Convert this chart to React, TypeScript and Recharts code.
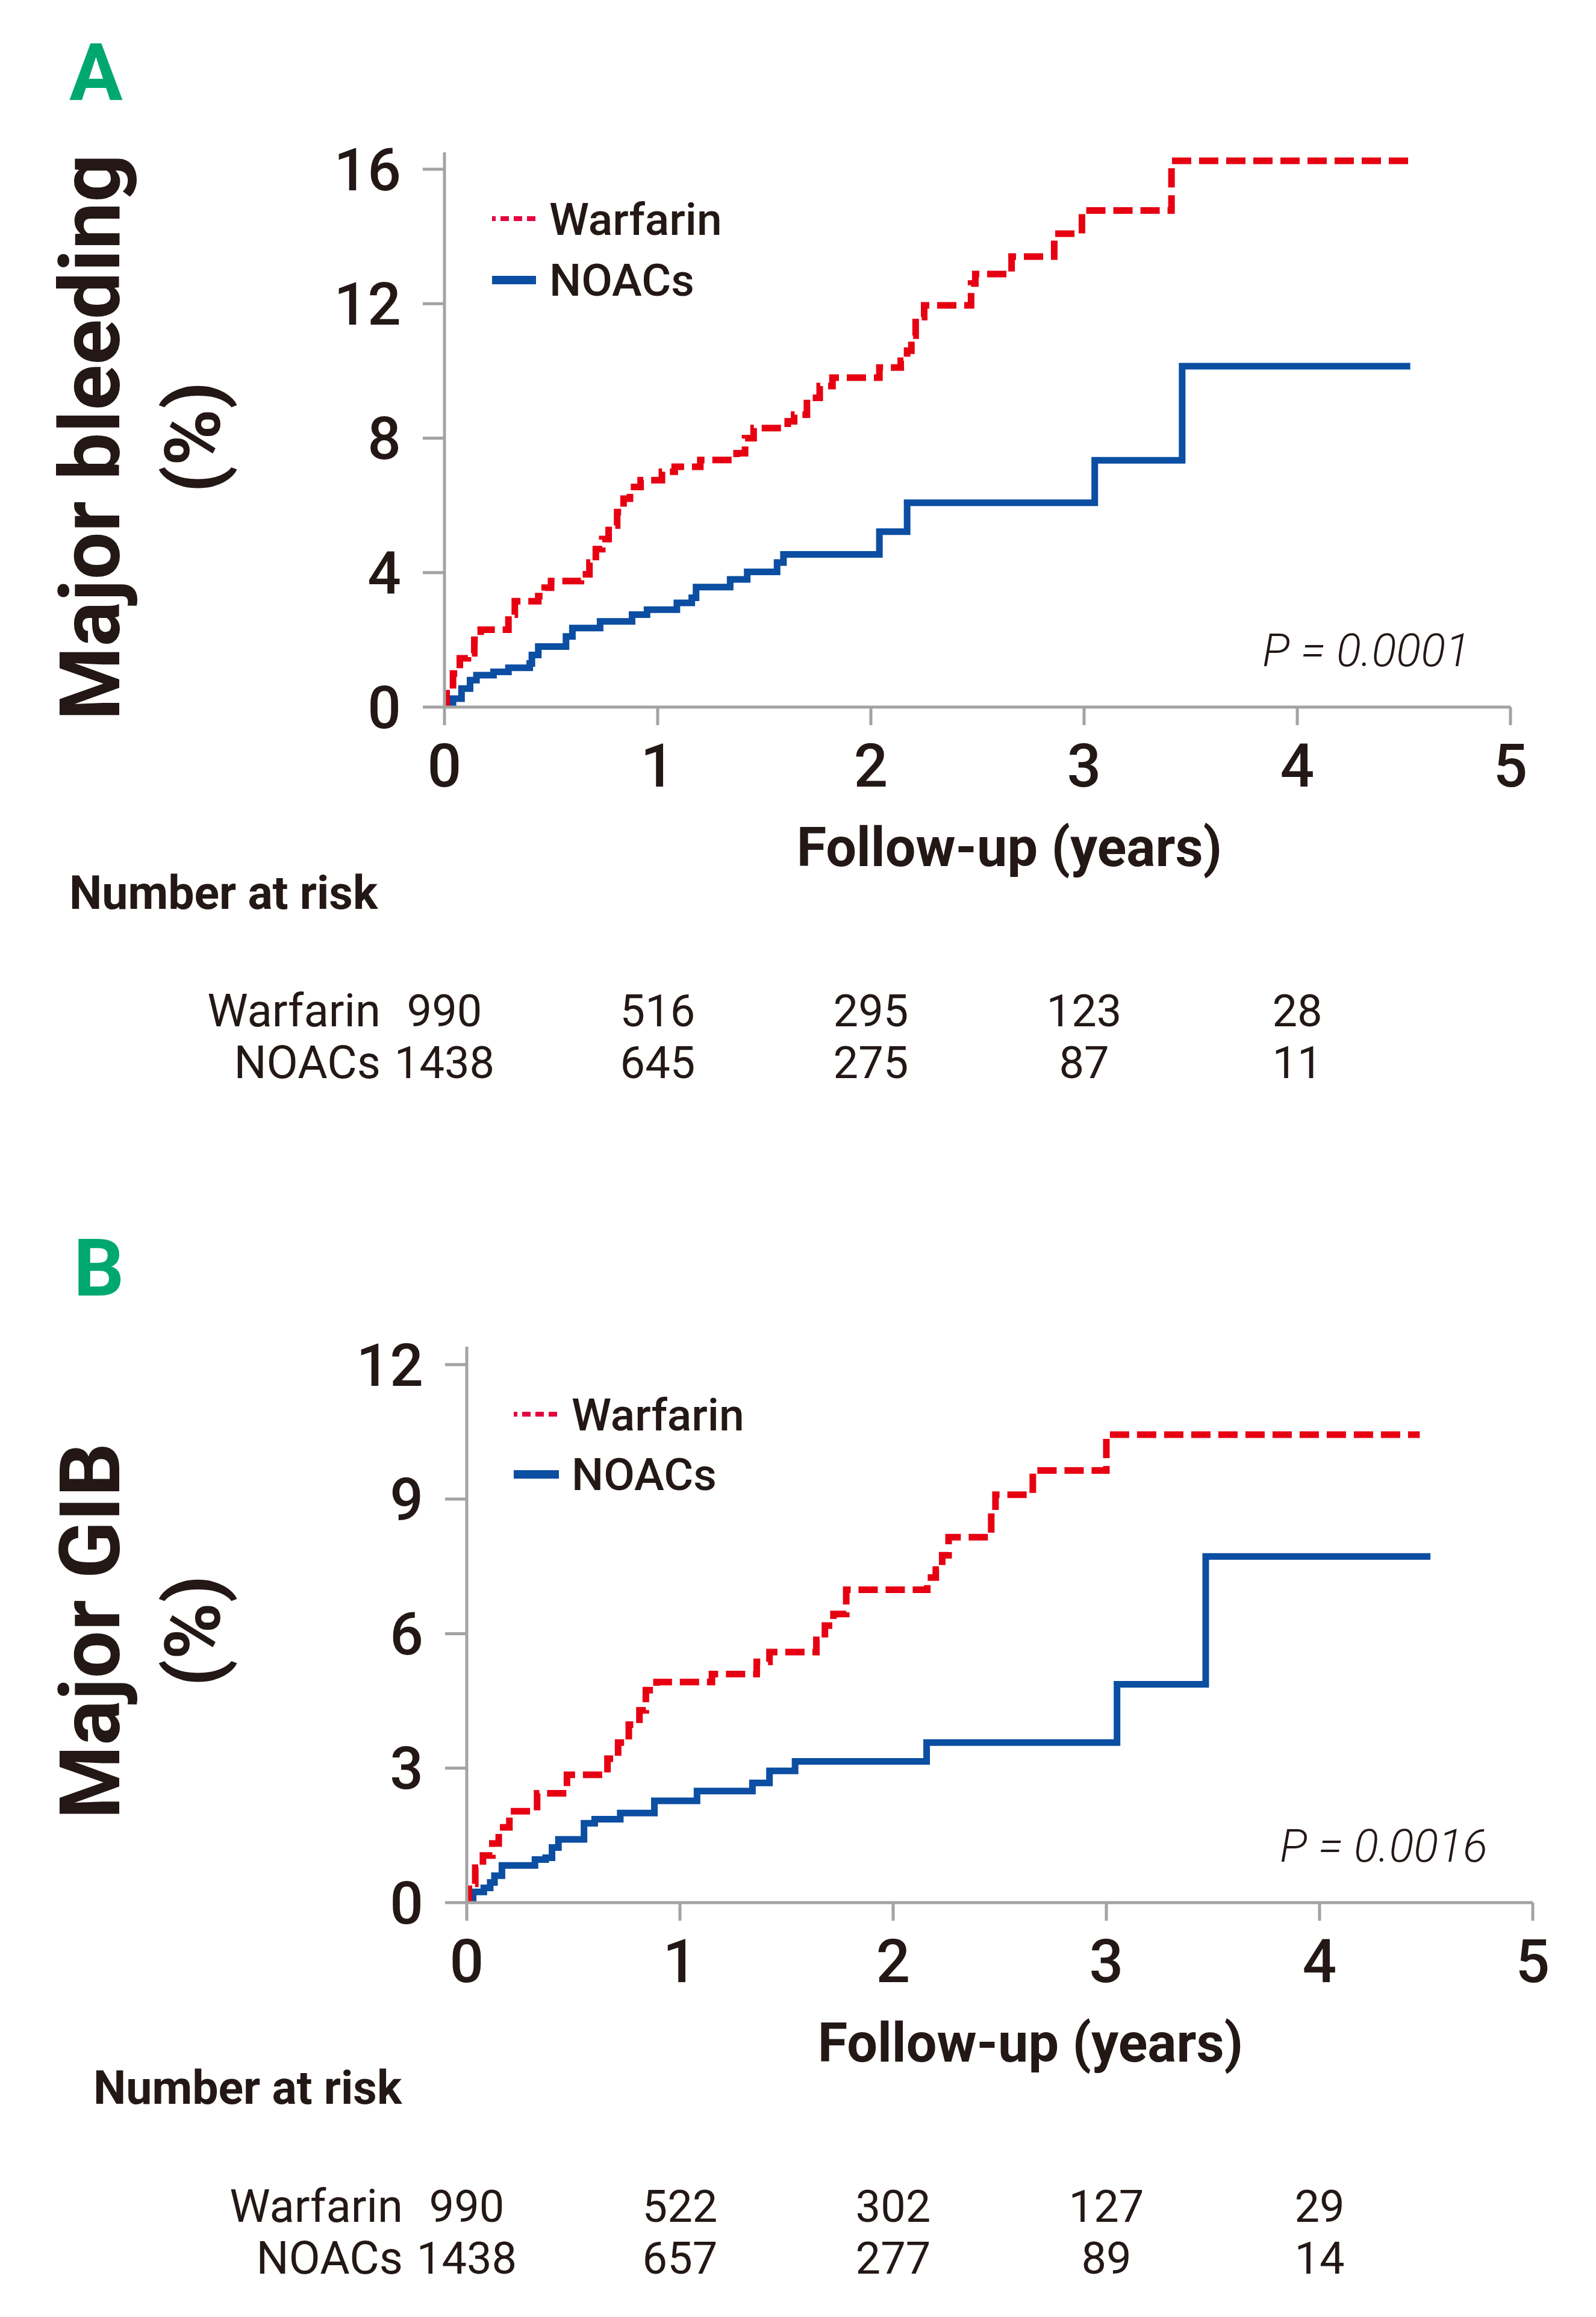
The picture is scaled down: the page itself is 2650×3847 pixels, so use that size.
import { LineChart, Line, XAxis, YAxis } from "recharts";

type Pt = { t: number; v: number };
const pts = (rows: number[][]): Pt[] => rows.map(([t, v]) => ({ t, v }));

// x: years of follow-up, v: cumulative incidence (%)
const yearTicks = [0, 1, 2, 3, 4, 5];
const bleedTicks = [0, 4, 8, 12, 16];
const gibTicks = [0, 3, 6, 9, 12];

const warfarinBleed = pts([
  [0, 0], [0.01, 0.54], [0.04, 1.0], [0.072, 1.45], [0.11, 1.6], [0.14, 2.0],
  [0.17, 2.3], [0.3, 2.75], [0.33, 3.15], [0.44, 3.3], [0.47, 3.55], [0.5, 3.75],
  [0.64, 3.95], [0.68, 4.3], [0.71, 4.7], [0.74, 5.0], [0.77, 5.4], [0.81, 5.8],
  [0.84, 6.2], [0.87, 6.55], [0.92, 6.75], [1.02, 7.0], [1.08, 7.15], [1.2, 7.35],
  [1.37, 7.55], [1.41, 8.0], [1.45, 8.3], [1.61, 8.5], [1.64, 8.7], [1.7, 9.2],
  [1.76, 9.55], [1.82, 9.8], [2.04, 10.1], [2.14, 10.3], [2.17, 10.6], [2.19, 11.05],
  [2.21, 11.6], [2.25, 11.95], [2.47, 12.6], [2.49, 12.88], [2.66, 13.4], [2.86, 14.08],
  [2.99, 14.77], [3.41, 16.25], [4.53, 16.25],
]);

const noacsBleed = pts([
  [0, 0], [0.04, 0.25], [0.08, 0.55], [0.12, 0.8], [0.15, 0.95], [0.23, 1.05],
  [0.3, 1.17], [0.4, 1.3], [0.41, 1.55], [0.44, 1.8], [0.57, 2.1], [0.6, 2.35],
  [0.73, 2.55], [0.88, 2.75], [0.95, 2.9], [1.09, 3.1], [1.16, 3.25], [1.18, 3.57],
  [1.34, 3.8], [1.42, 4.02], [1.56, 4.3], [1.59, 4.54], [2.04, 5.22], [2.17, 6.08],
  [3.05, 7.34], [3.46, 10.14], [4.53, 10.14],
]);

const warfarinGib = pts([
  [0, 0], [0.01, 0.42], [0.04, 0.78], [0.076, 1.05], [0.12, 1.32], [0.15, 1.68],
  [0.2, 2.04], [0.33, 2.44], [0.47, 2.85], [0.66, 3.21], [0.71, 3.57], [0.76, 3.97],
  [0.81, 4.29], [0.84, 4.74], [0.89, 4.92], [1.15, 5.1], [1.36, 5.37], [1.42, 5.59],
  [1.64, 5.86], [1.68, 6.18], [1.72, 6.44], [1.78, 6.98], [2.16, 7.25], [2.2, 7.43],
  [2.23, 7.75], [2.26, 8.15], [2.46, 8.69], [2.48, 9.1], [2.655, 9.64], [3.0, 10.44],
  [4.47, 10.44],
]);

const noacsGib = pts([
  [0, 0], [0.03, 0.24], [0.08, 0.33], [0.11, 0.45], [0.13, 0.6], [0.165, 0.83],
  [0.32, 0.96], [0.37, 1.0], [0.4, 1.23], [0.43, 1.41], [0.55, 1.77], [0.6, 1.86],
  [0.72, 2.0], [0.88, 2.27], [1.08, 2.49], [1.34, 2.67], [1.42, 2.94], [1.54, 3.15],
  [2.157, 3.57], [3.05, 4.87], [3.466, 7.72], [4.52, 7.72],
]);

const riskWarfarinBleed = [990, 516, 295, 123, 28];
const riskNoacsBleed = [1438, 645, 275, 87, 11];
const riskWarfarinGib = [990, 522, 302, 127, 29];
const riskNoacsGib = [1438, 657, 277, 89, 14];

const FONT = "Roboto, 'Open Sans', sans-serif";
const INK = "#231815";
const AXIS = "#a3a3a3";
const RED = "#e60012";
const LEGEND_RED = "#e4003f";
const BLUE = "#0b4ea2";
const GREEN = "#00a870";

function RiskTick(props: any) {
  const { x, y, payload, index, riskW, riskN } = props;
  return (
    <g fontFamily={FONT} fill={INK}>
      <text x={x} y={y + 102} textAnchor="middle" fontSize={100} fontWeight={500}>
        {payload.value}
      </text>
      {index < riskW.length && (
        <>
          <text x={x} y={y + 500} textAnchor="middle" fontSize={74}>
            {riskW[index]}
          </text>
          <text x={x} y={y + 586} textAnchor="middle" fontSize={74}>
            {riskN[index]}
          </text>
        </>
      )}
      {index === 0 && (
        <>
          <text x={x - 106} y={y + 500} textAnchor="end" fontSize={76}>
            Warfarin
          </text>
          <text x={x - 106} y={y + 586} textAnchor="end" fontSize={76}>
            NOACs
          </text>
        </>
      )}
    </g>
  );
}

type PanelProps = {
  top: number;
  height: number;
  plot: { left: number; right: number; top: number; bottom: number };
  yMax: number;
  yTicks: number[];
  warfarin: Pt[];
  noacs: Pt[];
  riskW: number[];
  riskN: number[];
  letter: string;
  letterPos: [number, number];
  yTitle: string;
  yTitleCenter: number;
  legend: { x1: number; x2: number; y1: number; y2: number; tx: number };
  pText: string;
  pPos: [number, number];
  xTitlePos: [number, number];
  riskTitlePos: [number, number];
};

function KmPanel(p: PanelProps) {
  const W = 2650;
  const yAxisW = 60;
  const xAxisH = 30;
  const margin = {
    left: p.plot.left - yAxisW,
    right: W - p.plot.right,
    top: p.plot.top,
    bottom: p.height - p.plot.bottom - xAxisH,
  };
  const lg = p.legend;
  return (
    <div style={{ position: "absolute", left: 0, top: p.top, width: W, height: p.height }}>
      <LineChart width={W} height={p.height} margin={margin}>
        <XAxis
          dataKey="t"
          type="number"
          domain={[0, 5]}
          ticks={yearTicks}
          height={xAxisH}
          axisLine={{ stroke: AXIS, strokeWidth: 5 }}
          tickLine={{ stroke: AXIS, strokeWidth: 5 }}
          tickSize={30}
          tickMargin={0}
          interval={0}
          tick={(tp: any) => <RiskTick {...tp} riskW={p.riskW} riskN={p.riskN} />}
        />
        <YAxis
          type="number"
          domain={[0, p.yMax]}
          ticks={p.yTicks}
          width={yAxisW}
          allowDataOverflow
          interval={0}
          axisLine={{ stroke: AXIS, strokeWidth: 5 }}
          tickLine={{ stroke: AXIS, strokeWidth: 5 }}
          tickSize={36}
          tickMargin={36}
          tick={{ fontSize: 98, fill: INK, fontFamily: FONT, fontWeight: 500 }}
        />
        <Line
          data={p.noacs}
          dataKey="v"
          type="stepAfter"
          stroke={BLUE}
          strokeWidth={11}
          dot={false}
          activeDot={false}
          isAnimationActive={false}
        />
        <Line
          data={p.warfarin}
          dataKey="v"
          type="stepAfter"
          stroke={RED}
          strokeWidth={11}
          strokeDasharray="32 13"
          dot={false}
          activeDot={false}
          isAnimationActive={false}
        />
      </LineChart>
      <svg
        width={W}
        height={p.height}
        style={{ position: "absolute", left: 0, top: 0, pointerEvents: "none" }}
        fontFamily={FONT}
      >
        <text x={p.letterPos[0]} y={p.letterPos[1]} fontSize={132} fontWeight={700} fill={GREEN}>
          {p.letter}
        </text>
        <text
          x={198}
          y={p.yTitleCenter}
          transform={`rotate(-90 198 ${p.yTitleCenter})`}
          textAnchor="middle"
          fontSize={140}
          fontWeight={700}
          fill={INK}
        >
          {p.yTitle}
        </text>
        <text
          x={365}
          y={p.yTitleCenter}
          transform={`rotate(-90 365 ${p.yTitleCenter})`}
          textAnchor="middle"
          fontSize={128}
          fontWeight={700}
          fill={INK}
        >
          (%)
        </text>
        <line x1={lg.x1} x2={lg.x2} y1={lg.y1} y2={lg.y1} stroke={LEGEND_RED} strokeWidth={8} strokeDasharray="6 8 14 8 14 8 14" />
        <text x={lg.tx} y={lg.y1 + 27} fontSize={75} fontWeight={500} fill={INK}>
          Warfarin
        </text>
        <line x1={lg.x1} x2={lg.x2} y1={lg.y2} y2={lg.y2} stroke={BLUE} strokeWidth={14} />
        <text x={lg.tx} y={lg.y2 + 26} fontSize={75} fontWeight={500} fill={INK}>
          NOACs
        </text>
        <text x={p.pPos[0]} y={p.pPos[1]} textAnchor="end" fontSize={76} fontStyle="italic" fontWeight={300} fill={INK}>
          {p.pText}
        </text>
        <text x={p.xTitlePos[0]} y={p.xTitlePos[1]} textAnchor="middle" fontSize={90} fontWeight={700} fill={INK}>
          Follow-up (years)
        </text>
        <text x={p.riskTitlePos[0]} y={p.riskTitlePos[1]} fontSize={77} fontWeight={700} fill={INK}>
          Number at risk
        </text>
      </svg>
    </div>
  );
}

export default function App() {
  return (
    <div style={{ position: "absolute", left: 0, top: 0, width: 2650, height: 3847, background: "#fff" }}>
      <KmPanel
        top={0}
        height={1900}
        plot={{ left: 738, right: 2508, top: 253, bottom: 1174 }}
        yMax={16.5}
        yTicks={bleedTicks}
        warfarin={warfarinBleed}
        noacs={noacsBleed}
        riskW={riskWarfarinBleed}
        riskN={riskNoacsBleed}
        letter="A"
        letterPos={[115, 166]}
        yTitle="Major bleeding"
        yTitleCenter={726}
        legend={{ x1: 817, x2: 890, y1: 363, y2: 465, tx: 912 }}
        pText="P = 0.0001"
        pPos={[2441, 1106]}
        xTitlePos={[1676, 1438]}
        riskTitlePos={[115, 1509]}
      />
      <KmPanel
        top={1950}
        height={1897}
        plot={{ left: 775, right: 2545, top: 286, bottom: 1209 }}
        yMax={12.4}
        yTicks={gibTicks}
        warfarin={warfarinGib}
        noacs={noacsGib}
        riskW={riskWarfarinGib}
        riskN={riskNoacsGib}
        letter="B"
        letterPos={[122, 201]}
        yTitle="Major GIB"
        yTitleCenter={758}
        legend={{ x1: 853, x2: 928, y1: 398, y2: 498, tx: 949 }}
        pText="P = 0.0016"
        pPos={[2470, 1141]}
        xTitlePos={[1711, 1473]}
        riskTitlePos={[155, 1543]}
      />
    </div>
  );
}
